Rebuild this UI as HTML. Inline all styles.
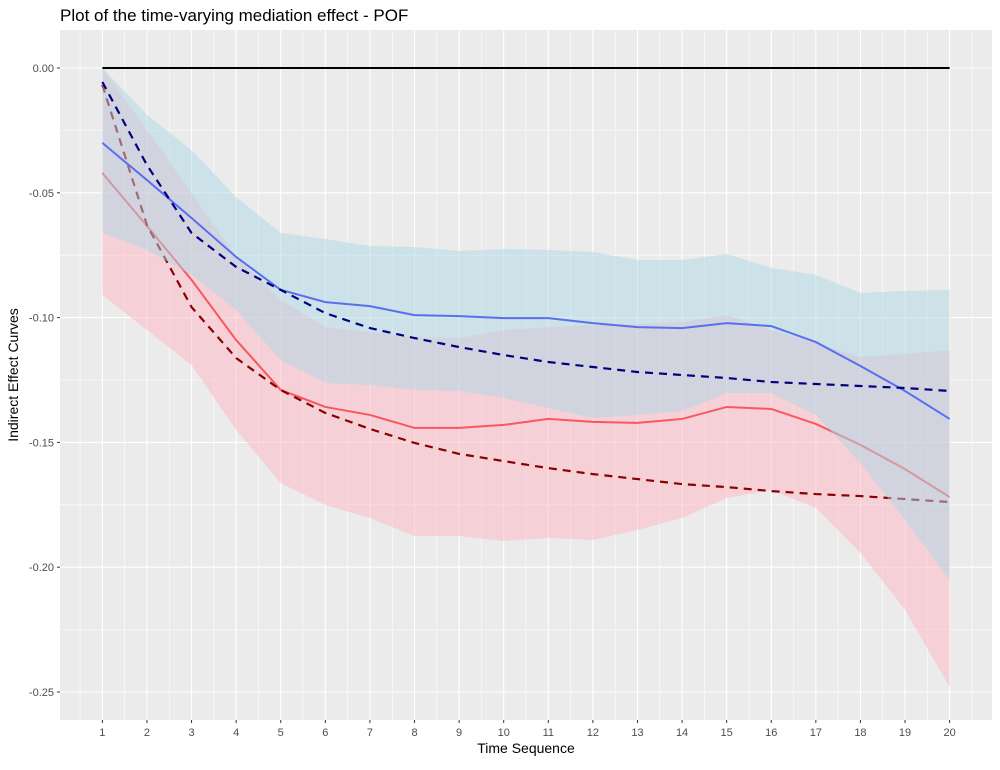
<!DOCTYPE html>
<html><head><meta charset="utf-8"><style>
body{margin:0;background:#fff;font-family:"Liberation Sans",sans-serif;}
svg text{font-family:"Liberation Sans",sans-serif;}
</style></head><body>
<svg id="chart" width="1000" height="765" xmlns="http://www.w3.org/2000/svg">
<text x="60" y="21" font-size="17" fill="#000">Plot of the time-varying mediation effect - POF</text>
<rect x="60" y="30" width="932" height="690" fill="#EBEBEB"/>
<g id="grid"></g><g id="marks"></g><g id="axes"></g>
<text x="526" y="753" font-size="14" text-anchor="middle">Time Sequence</text>
<text transform="translate(18,375) rotate(-90)" font-size="14" text-anchor="middle">Indirect Effect Curves</text>
</svg>
<script>
const times=[1,2,3,4,5,6,7,8,9,10,11,12,13,14,15,16,17,18,19,20];
const yTicks=[0,-0.05,-0.10,-0.15,-0.20,-0.25];
const yTickLabels=["0.00","-0.05","-0.10","-0.15","-0.20","-0.25"];
const blueSolid=[-0.0300,-0.0449,-0.0601,-0.0757,-0.0889,-0.0938,-0.0954,-0.0990,-0.0994,-0.1002,-0.1002,-0.1022,-0.1038,-0.1042,-0.1022,-0.1034,-0.1098,-0.1194,-0.1294,-0.1406];
const blueUpper=[0,-0.0188,-0.0329,-0.0517,-0.0661,-0.0685,-0.0713,-0.0717,-0.0733,-0.0725,-0.0729,-0.0737,-0.0769,-0.0769,-0.0745,-0.0801,-0.0829,-0.0901,-0.0893,-0.0889];
const blueLower=[-0.0661,-0.0729,-0.0829,-0.0970,-0.1170,-0.1262,-0.1270,-0.1290,-0.1294,-0.1322,-0.1362,-0.1402,-0.1390,-0.1374,-0.1302,-0.1302,-0.1390,-0.1583,-0.1811,-0.2051];
const pinkUpper=[0,-0.0248,-0.0501,-0.0757,-0.0929,-0.1038,-0.1058,-0.1078,-0.1082,-0.1050,-0.1038,-0.1030,-0.1026,-0.1018,-0.0990,-0.1050,-0.1102,-0.1158,-0.1146,-0.1130];
const pinkLower=[-0.0909,-0.1050,-0.1190,-0.1450,-0.1663,-0.1751,-0.1803,-0.1875,-0.1875,-0.1895,-0.1883,-0.1891,-0.1851,-0.1803,-0.1723,-0.1691,-0.1763,-0.1943,-0.2171,-0.2480];
const redSolid=[-0.0421,-0.0633,-0.0849,-0.1090,-0.1290,-0.1358,-0.1390,-0.1442,-0.1442,-0.1430,-0.1406,-0.1418,-0.1422,-0.1406,-0.1358,-0.1366,-0.1426,-0.1510,-0.1607,-0.1719];
const redDashed=[-0.0068,-0.0629,-0.0958,-0.1162,-0.1290,-0.1382,-0.1446,-0.1502,-0.1546,-0.1575,-0.1603,-0.1627,-0.1647,-0.1667,-0.1679,-0.1695,-0.1707,-0.1715,-0.1727,-0.1739];
const blueDashed=[-0.0056,-0.0389,-0.0661,-0.0797,-0.0889,-0.0982,-0.1042,-0.1082,-0.1118,-0.1150,-0.1178,-0.1198,-0.1218,-0.1230,-0.1242,-0.1258,-0.1266,-0.1274,-0.1282,-0.1294];
const zeroLine=[0,0];

const NS="http://www.w3.org/2000/svg";
function sx(t){return 60+(t-0.05)*(932/20.9);}
function sy(v){return 68-v*2496;}
function mk(tag,parent,attrs){const e=document.createElementNS(NS,tag);for(const k in attrs)e.setAttribute(k,attrs[k]);parent.appendChild(e);return e;}
const grid=document.getElementById('grid'),marks=document.getElementById('marks'),axes=document.getElementById('axes');
for(let t=0.5;t<=20.5;t+=1){const l=mk('line',grid,{x1:sx(t),x2:sx(t),y1:30,y2:720,stroke:'#fff','stroke-width':0.55});

}
for(let k=0;k<5;k++){const v=-0.025-0.05*k;const l=mk('line',grid,{x1:60,x2:992,y1:sy(v),y2:sy(v),stroke:'#fff','stroke-width':0.55});

}
times.forEach(t=>{const l=mk('line',grid,{x1:sx(t),x2:sx(t),y1:30,y2:720,stroke:'#fff','stroke-width':1.1});


const tk=mk('line',axes,{x1:sx(t),x2:sx(t),y1:720,y2:723,stroke:'#333','stroke-width':1});


const tx=mk('text',axes,{x:sx(t),y:736,'font-size':11,fill:'#4D4D4D','text-anchor':'middle'});tx.textContent=t;

});
yTicks.forEach((v,i)=>{const l=mk('line',grid,{x1:60,x2:992,y1:sy(v),y2:sy(v),stroke:'#fff','stroke-width':1.1});


const tk=mk('line',axes,{x1:57,x2:60,y1:sy(v),y2:sy(v),stroke:'#333','stroke-width':1});


const tx=mk('text',axes,{x:54,y:sy(v)+4,'font-size':11,fill:'#4D4D4D','text-anchor':'end'});tx.textContent=yTickLabels[i];

});
function ribbon(up,lo,fill,name){let d='M'+times.map((t,i)=>sx(t)+','+sy(up[i])).join(' L');
for(let i=times.length-1;i>=0;i--)d+=' L'+sx(times[i])+','+sy(lo[i]);
const p=mk('path',marks,{d:d+'Z',fill:fill});

}
function line(vals,color,w,dash,name){const p=mk('polyline',marks,{points:times.map((t,i)=>sx(t)+','+sy(vals[i])).join(' '),fill:'none',stroke:color,'stroke-width':w});
if(dash)p.setAttribute('stroke-dasharray',dash);

}
ribbon(pinkUpper,pinkLower,'rgba(255,182,193,0.5)','pink-confidence-band');
line(redSolid,'#F8585D',2,null,'red-solid-curve');
line(redDashed,'#8B0000',2.2,'8,6','red-dashed-curve');
ribbon(blueUpper,blueLower,'rgba(173,216,230,0.5)','blue-confidence-band');
line(blueSolid,'#5A6FF0',2,null,'blue-solid-curve');
line(blueDashed,'#000080',2.2,'8,6','blue-dashed-curve');
const z=mk('line',marks,{x1:sx(times[0]),x2:sx(times[times.length-1]),y1:sy(zeroLine[0]),y2:sy(zeroLine[1]),stroke:'#000','stroke-width':2});


</script>
</body></html>
